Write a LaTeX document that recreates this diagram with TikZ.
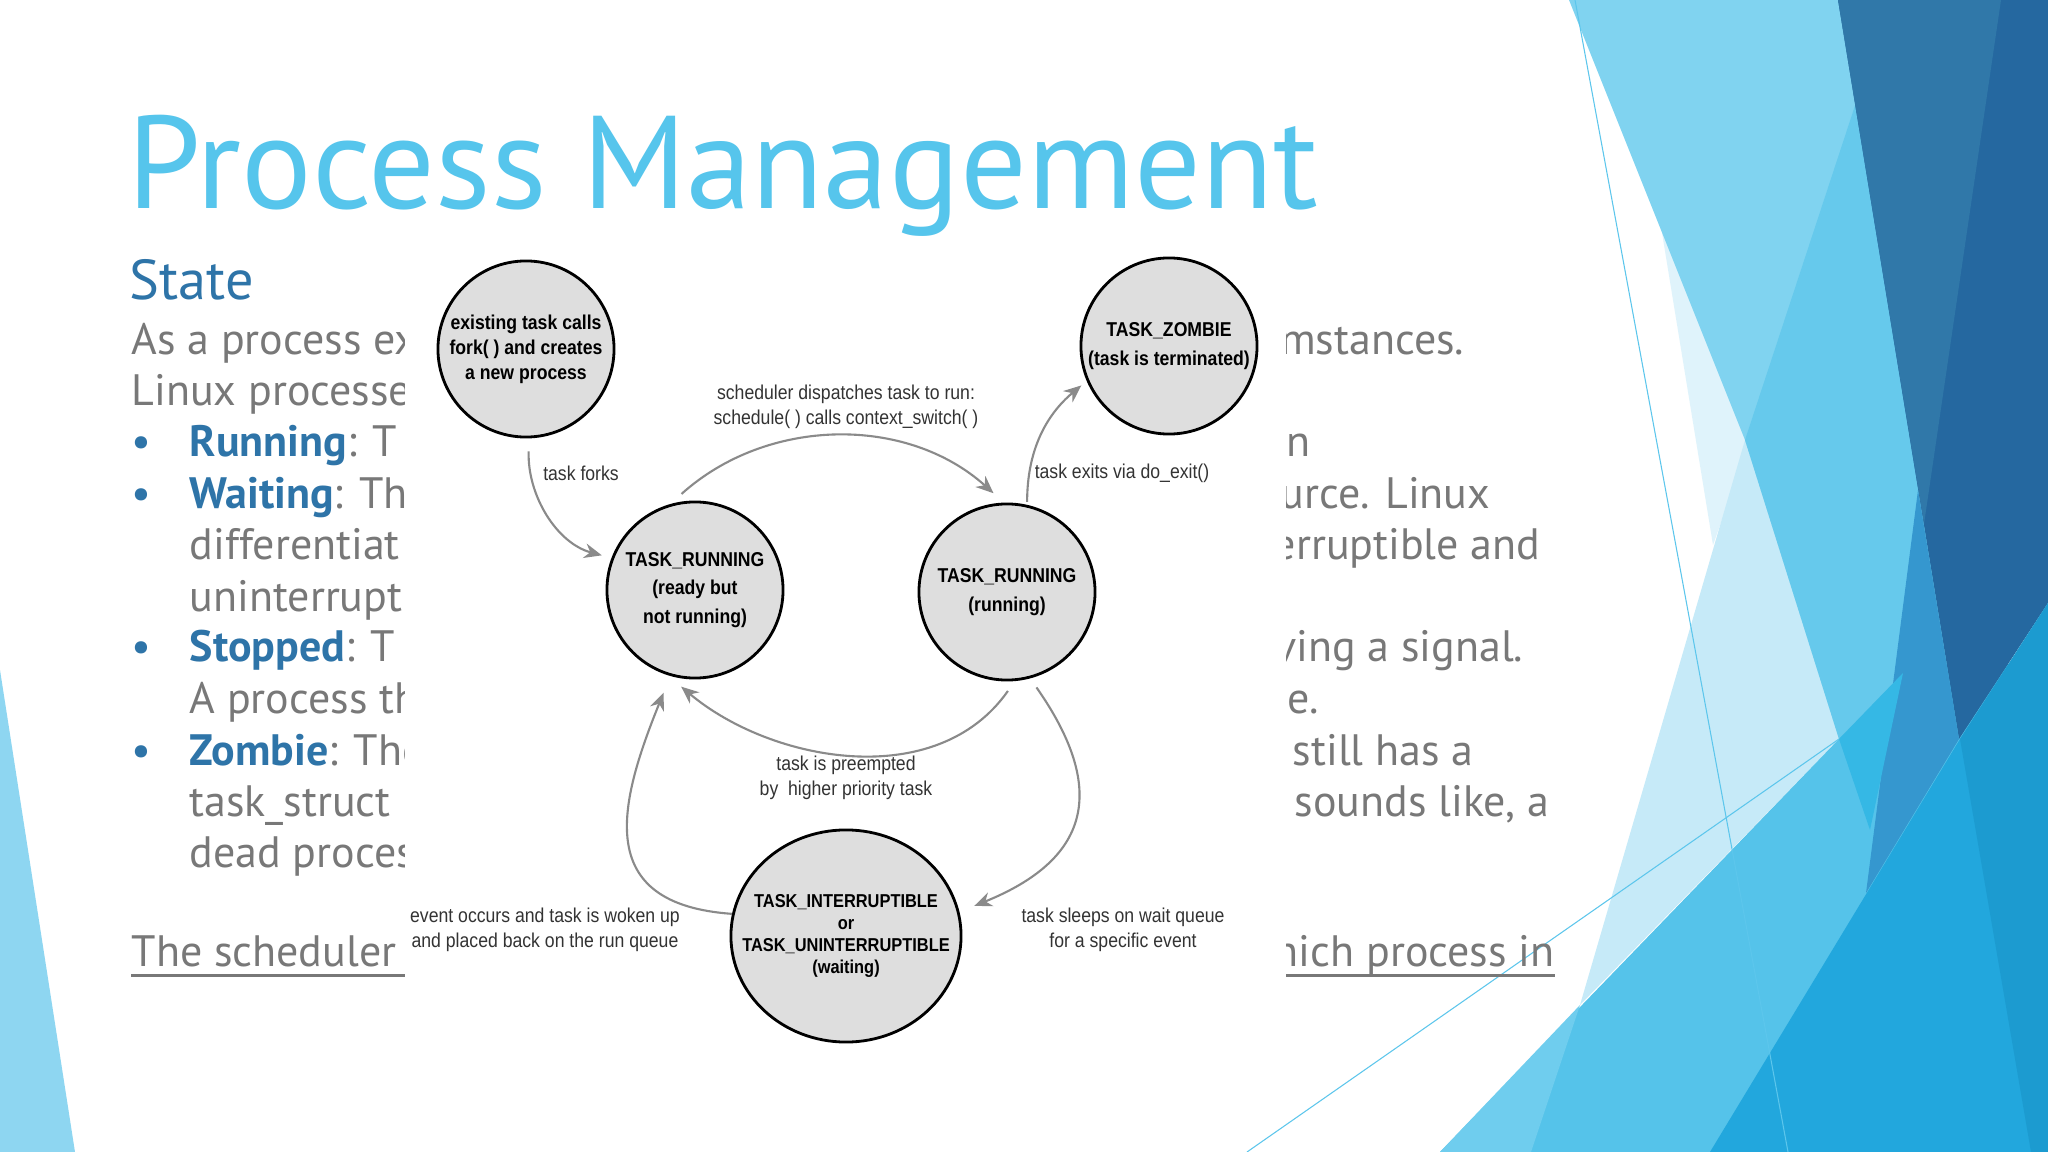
\documentclass[tikz,border=0pt]{standalone}
\usepackage{fontspec}
\setmainfont{PT Sans}
\newfontfamily\figfont[FakeStretch=0.88]{Liberation Sans}
\usetikzlibrary{arrows.meta,shapes.geometric}
\definecolor{titleblue}{RGB}{86,197,236}
\definecolor{headblue}{RGB}{46,116,168}
\definecolor{bodygray}{RGB}{120,120,120}
\definecolor{discgray}{RGB}{222,222,222}
\definecolor{flowgray}{RGB}{138,138,138}
\definecolor{facetsky}{HTML}{8ED6F1}
\definecolor{facetfaint}{HTML}{DFF3FB}
\definecolor{facetpale}{HTML}{C6EAF8}
\definecolor{facetlight}{HTML}{80D3F0}
\definecolor{facetmid}{HTML}{66C9EC}
\definecolor{facetbright}{HTML}{55C3EA}
\definecolor{facetbrightpale}{HTML}{6FCDEE}
\definecolor{facetdeep}{HTML}{2568A0}
\definecolor{facetdeeplight}{HTML}{3078A9}
\definecolor{facetsteel}{HTML}{3597CF}
\definecolor{facetvivid}{HTML}{35B8E5}
\definecolor{facetstrong}{HTML}{22A7DD}
\definecolor{facetedge}{HTML}{1C9BD0}
\definecolor{facetline}{HTML}{5CC6EC}

\begin{document}
\begin{tikzpicture}[x=0.01cm,y=-0.01cm,
    body/.style={anchor=base west,inner sep=0pt,text=bodygray,font=\fontsize{12.5}{15}\selectfont},
    bodyr/.style={body,anchor=base east},
    stnode/.style={circle,draw=black,line width=0.8pt,fill=discgray,minimum size=1.76cm,inner sep=0pt,align=center,font=\figfont\bfseries\fontsize{5.7}{8.2}\selectfont},
    lbl/.style={align=center,inner sep=0pt,text=black!80,font=\figfont\fontsize{5.7}{7.1}\selectfont},
    flow/.style={draw=flowgray,line width=0.6pt,-{Stealth[length=5pt,width=4.2pt]}},
    hair/.style={draw=facetline,line width=0.3pt}]
\useasboundingbox (0,0) rectangle (2048,1152);
\fill[white] (0,0) rectangle (2048,1152);

\fill[facetsky] (0,670) -- (75,1152) -- (0,1152) -- cycle;
\fill[facetfaint] (1624,0) -- (1713,545) -- (1800,300) -- (1800,0) -- cycle;
\fill[facetpale] (1745,440) -- (1580,1005) -- (1839,739) -- cycle;
\fill[facetlight] (1569,0) -- (1745,440) -- (1839,739) -- (1960,739) -- (1960,0) -- cycle;
\fill[facetmid] (1870,60) -- (1745,440) -- (1839,739) -- (1960,739) -- (1960,60) -- cycle;
\fill[facetbright] (1440,1152) -- (1839,739) -- (1912,664) -- (2048,664) -- (2048,1152) -- cycle;
\fill[facetbrightpale] (1580,1005) -- (1440,1152) -- (1531,1152) -- cycle;
\fill[facetdeep] (1838,0) -- (2048,0) -- (2048,603) -- (1959,739) -- cycle;
\fill[facetdeeplight] (1838,0) -- (2001,0) -- (1924,524) -- cycle;
\fill[facetsteel] (1918,490) -- (1959,739) -- (1866,893) -- cycle;
\fill[facetvivid] (1839,739) -- (1903,673) -- (1870,830) -- cycle;
\fill[facetstrong] (2048,603) -- (1960,739) -- (1710,1152) -- (2048,1152) -- cycle;
\fill[facetedge] (1960,739) -- (2048,603) -- (2048,1152) -- (2031,1152) -- cycle;
\draw[hair] (1575,0) -- (1788,1152);
\draw[hair] (1247,1152) -- (1839,739);

\node[anchor=base west,inner sep=0pt,text=titleblue,font=\fontsize{37.5}{40}\selectfont] (title) at (127,209) {Process Management};
\node[anchor=base west,inner sep=0pt,text=headblue,font=\fontsize{16}{18}\selectfont] (state) at (129,300) {State};

\node[body] (l1) at (131,355) {As a process ex};
\node[body] (l2) at (131,406) {Linux processes};
\node[body,text=headblue] (b1) at (131,457) {•};
\node[body] (l3) at (189,457) {\textcolor{headblue}{\textbf{Running}}: T};
\node[body,text=headblue] (b2) at (131,509) {•};
\node[body] (l4) at (189,509) {\textcolor{headblue}{\textbf{Waiting}}: The};
\node[body] (l5) at (189,560) {differentiat};
\node[body] (l6) at (189,611) {uninterruptible};
\node[body,text=headblue] (b3) at (131,662) {•};
\node[body] (l7) at (189,662) {\textcolor{headblue}{\textbf{Stopped}}: T};
\node[body] (l8) at (189,713) {A process th};
\node[body,text=headblue] (b4) at (131,765) {•};
\node[body] (l9) at (189,765) {\textcolor{headblue}{\textbf{Zombie}}: The};
\node[body] (l10) at (189,816) {task\_struct};
\node[body] (l11) at (189,867) {dead process};
\node[body] (sched) at (131,966) {The scheduler};
\draw[bodygray,line width=0.9pt] ([yshift=-2.6pt]sched.base west) -- ++(274,0);

\node[bodyr] (r1) at (1465,355) {cumstances.};
\node[bodyr] (r3) at (1311,457) {run};
\node[bodyr] (r4) at (1491,509) {source. Linux};
\node[bodyr] (r5) at (1541,560) {terruptible and};
\node[bodyr] (r7) at (1524,662) {eiving a signal.};
\node[bodyr] (r8) at (1320,713) {e.};
\node[bodyr] (r9) at (1474,765) {still has a};
\node[bodyr] (r10) at (1550,816) {sounds like, a};
\node[bodyr] (r12) at (1555,966) {which process in};
\draw[bodygray,line width=0.9pt] ([yshift=-2.6pt]r12.base west) -- ([yshift=-2.6pt]r12.base east);

\fill[white] (405,250) rectangle (1286,1052);

\node[stnode,font=\figfont\bfseries\fontsize{5.7}{7.1}\selectfont] (fork) at (526,349) {existing task calls\\fork( ) and creates\\a new process};
\node[stnode] (zombie) at (1169,346) {TASK\_ZOMBIE\\(task is terminated)};
\node[stnode] (ready) at (695,590) {TASK\_RUNNING\\(ready but\\not running)};
\node[stnode] (running) at (1007,592) {TASK\_RUNNING\\(running)};
\node[stnode,ellipse,minimum width=2.3cm,minimum height=2.12cm] (waiting) at (846,936) {};
\node[align=center,inner sep=0pt,font=\figfont\bfseries\fontsize{5.3}{6.2}\selectfont] (waitlbl) at (waiting.center) {TASK\_INTERRUPTIBLE\\or\\TASK\_UNINTERRUPTIBLE\\(waiting)};

\node[lbl] (dispatch) at (846,407) {scheduler dispatches task to run:\\schedule( ) calls context\_switch( )};
\node[lbl] (forks) at (581,473) {task forks};
\node[lbl] (exits) at (1122,473) {task exits via do\_exit()};
\node[lbl] (preempt) at (846,778) {task is preempted\\by\ \ higher priority task};
\node[lbl] (woken) at (545,930) {event occurs and task is woken up\\and placed back on the run queue};
\node[lbl] (sleeps) at (1123,930) {task sleeps on wait queue\\for a specific event};

\draw[flow,shorten <=0.13cm,shorten >=0.1cm] (fork.-88) to[out=-92,in=165] (ready.159);
\draw[flow,shorten <=0.15cm,shorten >=0.14cm] (ready.106) to[out=42,in=138] (running.92);
\draw[flow,shorten <=0.03cm,shorten >=0.07cm] (running.77) to[out=90,in=220] (zombie.203);
\draw[flow,shorten <=0.12cm,shorten >=0.18cm] (running.-85) to[out=-125,in=-40] (ready.-108);
\draw[flow,shorten <=0.11cm,shorten >=0.16cm] (running.-75) to[out=-55,in=22,looseness=1.45] (waiting.12);
\draw[flow,shorten >=0.18cm] (waiting.169) to[out=176,in=-112,looseness=1.45] (ready.-106);
\end{tikzpicture}
\end{document}
